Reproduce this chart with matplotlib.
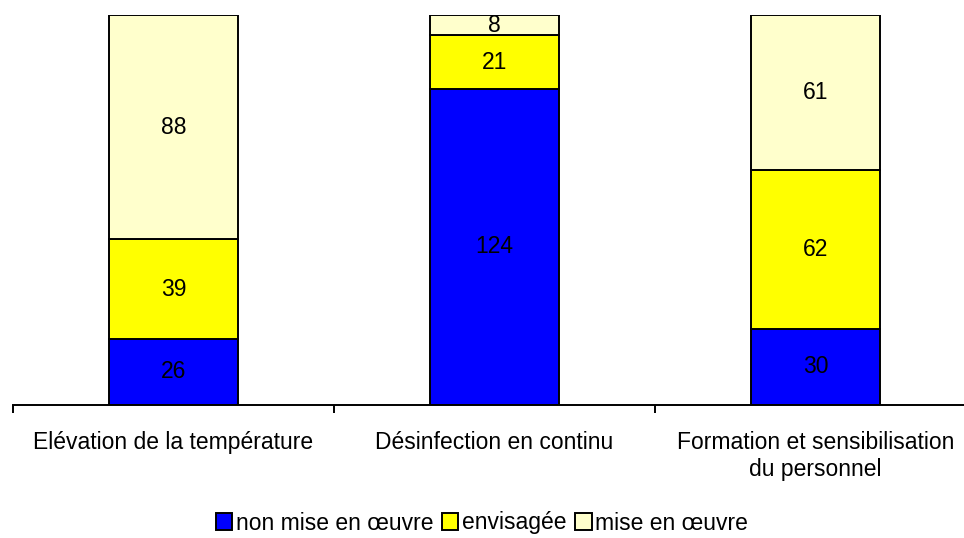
import matplotlib.pyplot as plt
import numpy as np

plt.rcParams['font.family'] = ['Liberation Sans', 'DejaVu Sans']

# categories and values
categories = ['Elévation de la température', 'Désinfection en continu',
              'Formation et sensibilisation\ndu personnel']
non_mise = [26, 124, 30]
envisagee = [39, 21, 62]
mise = [88, 8, 61]
series_names = ['non mise en œuvre', 'envisagée', 'mise en œuvre']
colors = ['#0000FF', '#FFFF00', '#FFFFCC']

fig = plt.figure(figsize=(9.64, 5.38), dpi=100)
ax = fig.add_axes([13 / 964, 133 / 538, 963 / 964, 390 / 538])

x = np.arange(len(categories))
bottom = np.zeros(len(categories))
for vals, name, col in zip([non_mise, envisagee, mise], series_names, colors):
    bars = ax.bar(x, vals, width=0.4, bottom=bottom, color=col,
                  edgecolor='black', linewidth=1.4, label=name)
    for xi, v, b in zip(x, vals, bottom):
        ax.text(xi, b + v / 2, str(v), ha='center', va='center', fontsize=16.5)
    bottom = bottom + np.array(vals)

ax.set_xlim(-0.5, 2.5)
ax.set_ylim(0, 153)
for s in ['top', 'right', 'left']:
    ax.spines[s].set_visible(False)
ax.spines['bottom'].set_linewidth(1.4)
ax.set_yticks([])
ax.set_xticks([-0.5, 0.5, 1.5, 2.5])
ax.set_xticklabels([])
ax.set_xticks(x, minor=True)
ax.set_xticklabels(categories, minor=True, fontsize=16.5)
ax.tick_params(axis='x', which='major', length=6, width=1.4, direction='out')
ax.tick_params(axis='x', which='minor', length=0, pad=19)

fig.legend(loc='center', bbox_to_anchor=(482 / 964, 1 - 523 / 538), ncol=3,
           frameon=False, fontsize=16.5, handlelength=0.7, handleheight=0.7,
           handletextpad=0.15, columnspacing=0.4)

fig.savefig('out.png', dpi=100)
